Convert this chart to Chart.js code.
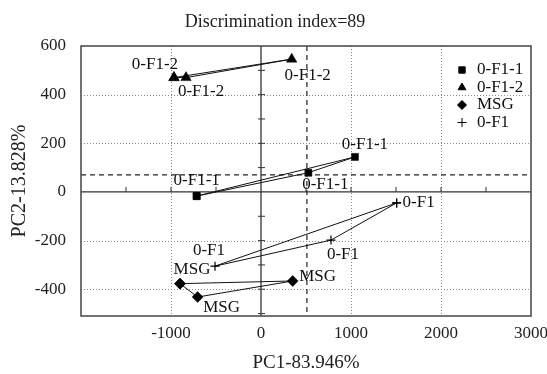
<!DOCTYPE html>
<html><head><meta charset="utf-8">
<style>html,body{margin:0;padding:0;background:#fff;} canvas{display:block;}</style>
<script src="https://cdn.jsdelivr.net/npm/chart.js@4/dist/chart.umd.min.js"></script>
</head><body>
<canvas id="c" width="547" height="374"></canvas>
<script>
// ---- data ----
const seriesNames = ['0-F1-1', '0-F1-2', 'MSG', '0-F1'];
const f11X = [-715, 526, 1044];
const f11Y = [-17, 79, 144];
const f12X = [-967, -833, 341];
const f12Y = [470, 470, 546];
const msgX = [-900, -704, 352];
const msgY = [-377, -432, -366];
const f1X = [1507, 778, -511];
const f1Y = [-45, -198, -305];
const xTickLabels = [-1000, 0, 1000, 2000, 3000];
const yTickLabels = [-400, -200, 0, 200, 400, 600];
const refX = 510, refY = 70;

// ---- styles ----
const FONT = 'Liberation Serif, Times New Roman, serif';
const pointStyles = ['rect', 'triangle', 'rectRot', 'cross'];
const pointRadii = [5, 6, 5.5, 4.5];
// label offsets (px) from each point: [dx, dy]
const labelOffsets = [
  [[0, -16], [17, 12], [10, -12]],
  [[-19, -13], [15, 14], [16, 16]],
  [[12, -14], [24, 11], [25, -4]],
  [[22, 0], [12, 14], [-6, -16]]
];

const groups = [[f11X, f11Y], [f12X, f12Y], [msgX, msgY], [f1X, f1Y]];
function pts(xs, ys) { return xs.map((x, i) => ({x: x, y: ys[i]})); }

const datasets = groups.map((g, i) => {
  const p = pts(g[0], g[1]);
  return {
    label: seriesNames[i],
    data: p.concat([p[0]]),
    showLine: true,
    borderColor: '#111',
    backgroundColor: '#000',
    borderWidth: 1,
    pointStyle: pointStyles[i],
    pointRadius: pointRadii[i],
    pointBorderWidth: pointStyles[i] === 'cross' ? 1.2 : 0.5,
    pointBorderColor: '#000',
    pointBackgroundColor: '#000',
    pointHoverRadius: pointRadii[i]
  };
});

const framePlugin = {
  id: 'frame',
  beforeDatasetsDraw(chart) {
    const {ctx, chartArea: a, scales: {x, y}} = chart;
    ctx.save();
    // dotted grid
    ctx.strokeStyle = '#8a8a8a';
    ctx.lineWidth = 1;
    ctx.setLineDash([1, 2]);
    xTickLabels.forEach(v => {
      if (v === 0 || v === x.max) return;
      const px = Math.round(x.getPixelForValue(v)) + 0.5;
      ctx.beginPath(); ctx.moveTo(px, a.top); ctx.lineTo(px, a.bottom); ctx.stroke();
    });
    yTickLabels.forEach(v => {
      if (v === 0 || v === y.max) return;
      const py = Math.round(y.getPixelForValue(v)) + 0.5;
      ctx.beginPath(); ctx.moveTo(a.left, py); ctx.lineTo(a.right, py); ctx.stroke();
    });
    // dashed reference lines
    ctx.setLineDash([5, 4]);
    ctx.strokeStyle = '#222';
    ctx.lineWidth = 1.2;
    const rx = x.getPixelForValue(refX), ry = y.getPixelForValue(refY);
    ctx.beginPath(); ctx.moveTo(rx, a.top); ctx.lineTo(rx, a.bottom); ctx.stroke();
    ctx.beginPath(); ctx.moveTo(a.left, ry); ctx.lineTo(a.right, ry); ctx.stroke();
    // zero axes
    ctx.setLineDash([]);
    ctx.strokeStyle = '#333';
    ctx.lineWidth = 1.3;
    const zx = x.getPixelForValue(0), zy = y.getPixelForValue(0);
    ctx.beginPath(); ctx.moveTo(zx, a.top); ctx.lineTo(zx, a.bottom); ctx.stroke();
    ctx.beginPath(); ctx.moveTo(a.left, zy); ctx.lineTo(a.right, zy); ctx.stroke();
    ctx.lineWidth = 1;
    for (let v = -1500; v <= 2500; v += 500) {
      if (v === 0) continue;
      const px = x.getPixelForValue(v);
      ctx.beginPath(); ctx.moveTo(px, zy); ctx.lineTo(px, zy - 5); ctx.stroke();
    }
    for (let v = -500; v <= 500; v += 100) {
      if (v === 0) continue;
      const py = y.getPixelForValue(v);
      ctx.beginPath(); ctx.moveTo(zx - 3, py); ctx.lineTo(zx + 4, py); ctx.stroke();
    }
    // frame
    ctx.strokeStyle = '#444';
    ctx.lineWidth = 1.5;
    ctx.strokeRect(a.left, a.top, a.right - a.left, a.bottom - a.top);
    ctx.restore();
  },
  afterDatasetsDraw(chart) {
    const {ctx, chartArea: a, scales: {x, y}} = chart;
    ctx.save();
    ctx.font = '17px ' + FONT;
    ctx.fillStyle = '#111';
    ctx.textAlign = 'center';
    ctx.textBaseline = 'middle';
    groups.forEach((g, i) => {
      g[0].forEach((vx, j) => {
        const px = x.getPixelForValue(vx), py = y.getPixelForValue(g[1][j]);
        const o = labelOffsets[i][j];
        ctx.fillText(seriesNames[i], px + o[0], py + o[1]);
      });
    });
    // legend
    const lx = a.right - 69, tx = a.right - 54;
    let ly = a.top + 24;
    chart.data.datasets.forEach((ds, i) => {
      ctx.strokeStyle = '#000';
      ctx.fillStyle = '#000';
      Chart.helpers.drawPoint(ctx, {
        pointStyle: ds.pointStyle, radius: 4.5, rotation: 0,
        borderWidth: ds.pointStyle === 'cross' ? 1.2 : 0.5
      }, lx, ly);
      ctx.textAlign = 'left';
      ctx.fillStyle = '#111';
      ctx.fillText(ds.label, tx, ly);
      ly += 17.5;
    });
    ctx.restore();
  }
};

new Chart(document.getElementById('c'), {
  type: 'scatter',
  data: {datasets: datasets},
  options: {
    responsive: false,
    animation: false,
    layout: {padding: {left: 19, right: 16, top: 0, bottom: 0}},
    plugins: {
      legend: {display: false},
      tooltip: {enabled: false},
      title: {
        display: true, text: 'Discrimination index=89', color: '#222',
        font: {family: FONT, size: 18, weight: 'normal', lineHeight: 1.2},
        padding: {top: 11, bottom: 13.4}
      }
    },
    scales: {
      x: {
        type: 'linear', min: -2000, max: 3000,
        afterBuildTicks: s => { s.ticks = xTickLabels.map(v => ({value: v})); },
        afterFit: s => { s.height = 58; },
        grid: {display: false}, border: {display: false},
        ticks: {font: {family: FONT, size: 17}, color: '#222', padding: -1, maxRotation: 0, autoSkip: false,
          callback: v => String(v)},
        title: {display: true, text: 'PC1-83.946%', color: '#222',
          font: {family: FONT, size: 19, lineHeight: 1.2}, padding: {top: 0, bottom: 0}}
      },
      y: {
        type: 'linear', min: -510, max: 600,
        afterBuildTicks: s => { s.ticks = yTickLabels.map(v => ({value: v})); },
        afterFit: s => { s.width = 62; },
        grid: {display: false}, border: {display: false},
        ticks: {font: {family: FONT, size: 17}, color: '#222', padding: 7, autoSkip: false,
          callback: v => String(v)},
        title: {display: true, text: 'PC2-13.828%', color: '#222',
          font: {family: FONT, size: 20, lineHeight: 1.2}, padding: {top: -11, bottom: 0}}
      }
    }
  },
  plugins: [framePlugin]
});
</script>
</body></html>
